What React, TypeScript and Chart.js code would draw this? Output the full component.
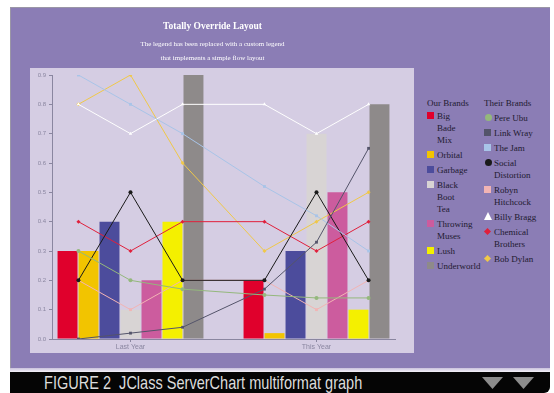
import React, { useEffect, useRef } from "react";
import { Chart, registerables } from "chart.js";

Chart.register(...registerables);

// ---------- data ----------
const categories = ["Last Year", "This Year"];
const yTickValues = [0, 0.1, 0.2, 0.3, 0.4, 0.5, 0.6, 0.7, 0.8, 0.9];

// Our Brands (bars), values per category
const ourBrandNames = ["Big Bade Mix", "Orbital", "Garbage", "Black Boot Tea", "Throwing Muses", "Lush", "Underworld"];
const bigBadeMix = [0.3, 0.2];
const orbital = [0.3, 0.02];
const garbage = [0.4, 0.3];
const blackBootTea = [0.1, 0.7];
const throwingMuses = [0.2, 0.5];
const lush = [0.4, 0.1];
const underworld = [0.9, 0.8];
const ourBrandValues = [bigBadeMix, orbital, garbage, blackBootTea, throwingMuses, lush, underworld];

// Their Brands (lines): x positions in category units, and values
const lineX = [-0.28, 0, 0.28, 0.72, 1, 1.28];
const theirBrandNames = ["Pere Ubu", "Link Wray", "The Jam", "Social Distortion", "Robyn Hitchcock", "Billy Bragg", "Chemical Brothers", "Bob Dylan"];
const pereUbu = [0.3, 0.2, 0.17, 0.15, 0.14, 0.14];
const linkWray = [0.0, 0.02, 0.04, 0.17, 0.33, 0.65];
const theJam = [0.9, 0.8, 0.7, 0.52, 0.42, 0.3];
const socialDistortion = [0.2, 0.5, 0.2, 0.2, 0.5, 0.2];
const robynHitchcock = [0.2, 0.1, 0.2, 0.2, 0.1, 0.2];
const billyBragg = [0.8, 0.7, 0.8, 0.8, 0.7, 0.8];
const chemicalBrothers = [0.4, 0.3, 0.4, 0.4, 0.3, 0.4];
const bobDylan = [0.8, 0.9, 0.6, 0.3, 0.4, 0.5];
const theirBrandValues = [pereUbu, linkWray, theJam, socialDistortion, robynHitchcock, billyBragg, chemicalBrothers, bobDylan];

// ---------- styles ----------
const ourColors = ["#e0002c", "#f2c400", "#4c4c9c", "#d8d4d4", "#cc5c9e", "#f4f000", "#8e8a8a"];
const lineColors = ["#94b87c", "#54546a", "#a8c4e8", "#1a1a1a", "#f2b4b4", "#ffffff", "#e0203c", "#f0c848"];
const pointStyles = ["circle", "rect", "rect", "circle", "rect", "triangle", "rectRot", "rectRot"];

const titleText = "Totally Override Layout";
const subtitleText = ["The legend has been replaced with a custom legend", "that implements a simple flow layout"];
const captionText = "FIGURE 2  JClass ServerChart multiformat graph";

const PURPLE = "#8b7db5";
const PANEL = "#d5cde3";
const AXIS = "#8a86a0";

const panelPlugin = {
  id: "panelBg",
  beforeDraw(chart: any) {
    const { ctx, width, height } = chart;
    ctx.save();
    ctx.fillStyle = PANEL;
    ctx.fillRect(0, 60, width, height - 60);
    ctx.restore();
  },
};

function ChartCanvas() {
  const ref = useRef<HTMLCanvasElement | null>(null);
  useEffect(() => {
    if (!ref.current) return;
    const datasets: any[] = [];
    ourBrandNames.forEach((name, i) => {
      datasets.push({
        type: "bar",
        label: name,
        data: categories.map((_, j) => ({ x: j, y: ourBrandValues[i][j] })),
        backgroundColor: ourColors[i],
        borderWidth: 0,
        categoryPercentage: 0.79,
        barPercentage: 0.95,
        order: 2,
      });
    });
    theirBrandNames.forEach((name, i) => {
      datasets.push({
        type: "line",
        label: name,
        data: lineX.map((x, k) => ({ x, y: theirBrandValues[i][k] })),
        borderColor: lineColors[i],
        backgroundColor: lineColors[i],
        borderWidth: 1,
        pointRadius: 2,
        pointStyle: pointStyles[i],
        pointBackgroundColor: lineColors[i],
        pointBorderWidth: 0,
        tension: 0,
        fill: false,
        order: 1,
      });
    });
    const chart = new Chart(ref.current, {
      type: "bar",
      data: { datasets },
      plugins: [panelPlugin],
      options: {
        animation: false,
        responsive: false,
        events: [],
        layout: { padding: { left: 0, right: 19, top: 0, bottom: 0 } },
        plugins: {
          legend: { display: false },
          tooltip: { enabled: false },
          title: {
            display: true,
            text: titleText,
            color: "#ffffff",
            font: { family: "'Liberation Serif', serif", size: 9.5, weight: "bold", lineHeight: 1.2 },
            padding: { top: 13, bottom: 0 },
          },
          subtitle: {
            display: true,
            text: subtitleText,
            color: "#ffffff",
            font: { family: "'Liberation Serif', serif", size: 7, lineHeight: 2 },
            padding: { top: 5, bottom: 9.6 },
          },
        },
        scales: {
          x: {
            type: "linear",
            offset: false,
            bounds: "data",
            min: -0.422,
            max: 1.422,
            afterBuildTicks: (s: any) => {
              s.ticks = categories.map((_, j) => ({ value: j }));
            },
            afterFit: (s: any) => {
              s.height = 14;
            },
            ticks: {
              callback: (v: any) => categories[Math.round(Number(v))] ?? "",
              color: "#8a86a0",
              font: { family: "'Liberation Sans', sans-serif", size: 7 },
              padding: 1,
              maxRotation: 0,
            },
            grid: { display: true, offset: false, drawOnChartArea: false, tickLength: 3, color: AXIS },
            border: { display: true, color: AXIS },
          },
          y: {
            type: "linear",
            min: 0,
            max: 0.9,
            afterBuildTicks: (s: any) => {
              s.ticks = yTickValues.map((v) => ({ value: v }));
            },
            afterFit: (s: any) => {
              s.width = 22;
            },
            ticks: {
              callback: (v: any) => Number(v).toFixed(1),
              color: "#8a86a0",
              font: { family: "'Liberation Sans', sans-serif", size: 6 },
              padding: 3,
            },
            grid: { display: true, drawOnChartArea: false, tickLength: 3, color: AXIS },
            border: { display: true, color: AXIS },
          },
        },
      } as any,
    });
    return () => chart.destroy();
  }, []);
  return (
    <canvas
      ref={ref}
      width={384}
      height={345}
      style={{ position: "absolute", left: 30, top: 8, width: 384, height: 345 }}
    />
  );
}

function Marker({ kind, color }: { kind: string; color: string }) {
  const base: React.CSSProperties = { position: "absolute", left: 0, top: 2 };
  if (kind === "circle")
    return <span style={{ ...base, left: 1, top: 2, width: 7, height: 7, borderRadius: "50%", background: color }} />;
  if (kind === "triangle")
    return (
      <span
        style={{
          ...base,
          left: 0,
          top: 1,
          width: 0,
          height: 0,
          borderLeft: "4px solid transparent",
          borderRight: "4px solid transparent",
          borderBottom: `8px solid ${color}`,
        }}
      />
    );
  if (kind === "rectRot")
    return <span style={{ ...base, left: 1, top: 3, width: 5, height: 5, transform: "rotate(45deg)", background: color }} />;
  return <span style={{ ...base, width: 7, height: 7, background: color }} />;
}

function LegendColumn({
  title,
  names,
  colors,
  kinds,
  left,
  top,
  itemTop,
  textWidth,
}: {
  title: string;
  names: string[];
  colors: string[];
  kinds: string[];
  left: number;
  top: number;
  itemTop: number;
  textWidth: number;
}) {
  return (
    <div style={{ position: "absolute", left, top, fontFamily: "'Liberation Serif', serif", fontSize: 9, color: "#1e1a30" }}>
      <div style={{ lineHeight: "12px", whiteSpace: "nowrap" }}>{title}</div>
      <div style={{ marginTop: itemTop }}>
        {names.map((n, i) => (
          <div key={n} style={{ position: "relative", paddingLeft: 10, marginBottom: 3, lineHeight: "12px" }}>
            <Marker kind={kinds[i]} color={colors[i]} />
            <div style={{ width: textWidth }}>{n}</div>
          </div>
        ))}
      </div>
    </div>
  );
}

export default function App() {
  return (
    <div style={{ position: "fixed", left: 0, top: 0, width: 554, height: 393, background: "#ffffff", overflow: "hidden" }}>
      <div
        style={{
          position: "absolute",
          left: 10,
          top: 7,
          width: 539,
          height: 361,
          background: PURPLE,
          borderTop: "1px solid #9a96a6",
          borderLeft: "1px solid #9a96a6",
        }}
      />
      <div
        style={{
          position: "absolute",
          left: 10,
          top: 368,
          width: 540,
          height: 4,
          background: "linear-gradient(#c9c0dc, #f4f2f8)",
        }}
      />
      <div
        style={{
          position: "absolute",
          left: 10,
          top: 372,
          width: 540,
          height: 21,
          background: "#050505",
          borderBottomRightRadius: 6,
        }}
      />
      <div
        style={{
          position: "absolute",
          left: 44,
          top: 372,
          fontFamily: "'Liberation Sans', sans-serif",
          fontSize: 19,
          lineHeight: "21px",
          color: "#dcdcdc",
          whiteSpace: "pre",
          transform: "scaleX(0.765)",
          transformOrigin: "left center",
        }}
      >
        {captionText}
      </div>
      <svg style={{ position: "absolute", left: 480, top: 376 }} width={56} height={14}>
        <polygon points="2,1 23,1 12.5,13" fill="#8c8c8c" />
        <polygon points="33,1 54,1 43.5,13" fill="#8c8c8c" />
      </svg>
      <ChartCanvas />
      <LegendColumn
        title="Our Brands"
        names={ourBrandNames}
        colors={ourColors}
        kinds={ourBrandNames.map(() => "rect")}
        left={427}
        top={97}
        itemTop={1}
        textWidth={30}
      />
      <LegendColumn
        title="Their Brands"
        names={theirBrandNames}
        colors={lineColors}
        kinds={pointStyles}
        left={484}
        top={97}
        itemTop={3}
        textWidth={48}
      />
    </div>
  );
}
